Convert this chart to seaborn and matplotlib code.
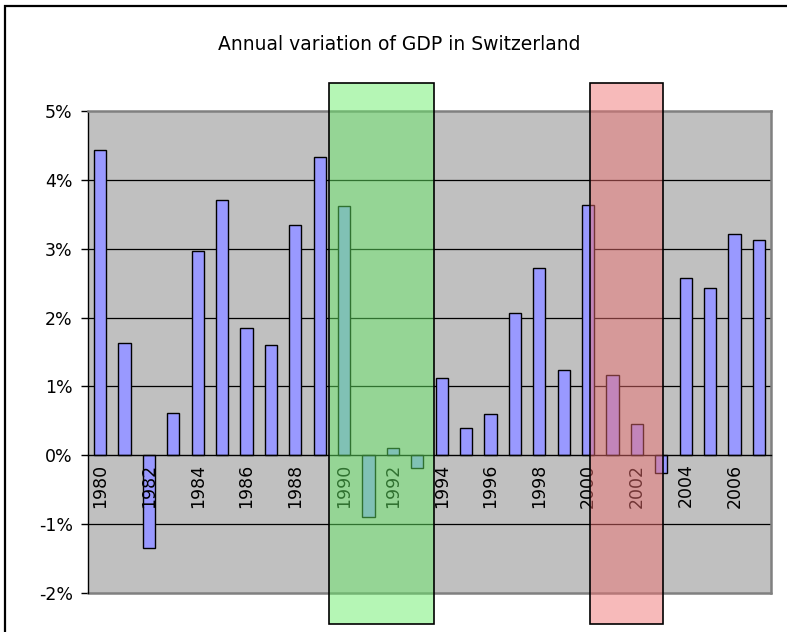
import numpy as np
import pandas as pd
import matplotlib.pyplot as plt
import matplotlib.ticker as mticker
from matplotlib.patches import Rectangle
import seaborn as sns

# data (annual GDP change, %)
years = list(range(1980, 2008))
gdp_change = [4.43, 1.63, -1.35, 0.62, 2.96, 3.71, 1.85, 1.60, 3.35, 4.33,
              3.62, -0.90, 0.10, -0.18, 1.12, 0.40, 0.60, 2.07, 2.72, 1.24,
              3.64, 1.17, 0.45, -0.25, 2.57, 2.43, 3.21, 3.12]
y_ticks = [-2, -1, 0, 1, 2, 3, 4, 5]

# highlighted periods (category index span)
green_span = (9.38, 13.67)
red_span = (20.09, 23.09)
span_y = (-2.45, 5.40)

sns.set_theme(style='white')
plt.rcParams['font.family'] = ['DejaVu Sans']
plt.rcParams['text.color'] = 'black'
plt.rcParams['xtick.color'] = 'black'
plt.rcParams['ytick.color'] = 'black'
plt.rcParams['xtick.labelcolor'] = 'black'
plt.rcParams['ytick.labelcolor'] = 'black'

df = pd.DataFrame({'year': [str(y) for y in years], 'change': gdp_change})

fig = plt.figure(figsize=(7.87, 6.32), dpi=100)
ax = fig.add_axes([88 / 787, 1 - 593 / 632, (771 - 88) / 787, (593 - 111) / 632])
ax.set_facecolor('#c0c0c0')

sns.barplot(data=df, x='year', y='change', color='#9999ff', saturation=1,
            width=0.5, edgecolor='black', linewidth=1, ax=ax, zorder=2)

ax.set_xlim(-0.5, len(years) - 0.5)
ax.set_ylim(min(y_ticks), max(y_ticks))
ax.set_yticks(y_ticks)
ax.yaxis.set_major_formatter(mticker.FuncFormatter(lambda v, p: f'{v:.0f}%'))
for v in y_ticks:
    if v not in (0, min(y_ticks), max(y_ticks)):
        ax.axhline(v, color='black', lw=0.9, zorder=1)

# x axis sits on the zero line, labels every second year
ax.spines['bottom'].set_position(('data', 0))
ax.spines['bottom'].set_color('black')
ax.spines['bottom'].set_linewidth(1)
ax.spines['bottom'].set_zorder(4)
ax.spines['left'].set_color('black')
ax.spines['left'].set_linewidth(1)
for s in ['top', 'right']:
    ax.spines[s].set_color('#808080')
    ax.spines[s].set_linewidth(1.8)
ax.axhline(min(y_ticks), color='#808080', lw=1.8, zorder=1, clip_on=False)

major = np.arange(0, len(years), 2)
ax.set_xticks(major)
ax.set_xticklabels([str(years[i]) for i in major], rotation=90)
ax.set_xticks(np.arange(-0.5, len(years), 1), minor=True)
ax.tick_params(axis='x', which='major', length=0, pad=6, labelsize=12.5)
ax.tick_params(axis='x', which='minor', length=5, width=1, direction='out')
ax.tick_params(axis='y', length=5, width=1, direction='out', pad=6, labelsize=12.5,
               left=True)
ax.xaxis.set_zorder(3.5)
ax.set_xlabel('')
ax.set_ylabel('')

# shaded periods, drawn beyond the plot area
for (x0, x1), col in [(green_span, '#66ee66'), (red_span, '#f07070')]:
    ax.add_patch(Rectangle((x0, span_y[0]), x1 - x0, span_y[1] - span_y[0],
                           facecolor=col, alpha=0.48, edgecolor='none',
                           zorder=5, clip_on=False))
    ax.add_patch(Rectangle((x0, span_y[0]), x1 - x0, span_y[1] - span_y[0],
                           facecolor='none', edgecolor='black', lw=1.2,
                           zorder=6, clip_on=False))

fig.text(0.507, 1 - 45 / 632, 'Annual variation of GDP in Switzerland',
         ha='center', va='center', fontsize=13.5, color='black')

# outer chart frame (left and top edges visible)
fig.add_artist(Rectangle((5 / 787, -0.1), 2, 1 - 6 / 632 + 0.1,
                         transform=fig.transFigure, fill=False,
                         edgecolor='black', lw=1.6))

fig.savefig('out.png', dpi=100)
